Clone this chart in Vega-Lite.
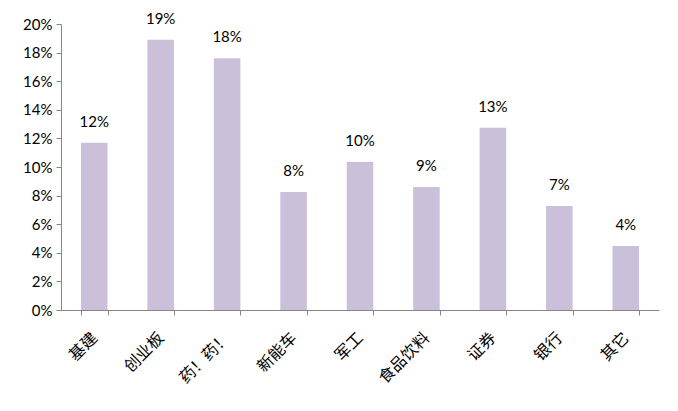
{
  "$schema": "https://vega.github.io/schema/vega-lite/v6.json",
  "autosize": {"type": "none"},
  "width": 598,
  "height": 286,
  "padding": {"left": 61, "top": 24, "right": 19, "bottom": 101},
  "background": "white",
  "config": {"view": {"stroke": null}},
  "data": {"values": [
    {"sector": "基建", "value": 0.117, "label": "12%"},
    {"sector": "创业板", "value": 0.189, "label": "19%"},
    {"sector": "药！药！", "value": 0.176, "label": "18%"},
    {"sector": "新能车", "value": 0.0825, "label": "8%"},
    {"sector": "军工", "value": 0.1035, "label": "10%"},
    {"sector": "食品饮料", "value": 0.086, "label": "9%"},
    {"sector": "证券", "value": 0.1275, "label": "13%"},
    {"sector": "银行", "value": 0.0727, "label": "7%"},
    {"sector": "其它", "value": 0.0448, "label": "4%"}
  ]},
  "encoding": {
    "x": {
      "field": "sector", "type": "nominal", "sort": null,
      "scale": {"paddingInner": 0.6, "paddingOuter": 0.3},
      "axis": {
        "title": null, "labelAngle": -45, "labelAlign": "right", "labelBaseline": "middle",
        "labelFont": "Noto Sans CJK SC", "labelFontSize": 16, "labelColor": "#000000",
        "labelPadding": 20,
        "domainColor": "#868686", "tickColor": "#868686", "tickSize": 5,
        "tickBand": "extent", "grid": false
      }
    },
    "y": {
      "field": "value", "type": "quantitative",
      "scale": {"domain": [0, 0.2], "nice": false},
      "axis": {
        "title": null, "format": ".0%", "values": [0, 0.02, 0.04, 0.06, 0.08, 0.1, 0.12, 0.14, 0.16, 0.18, 0.2],
        "labelFont": "Lato", "labelFontSize": 15, "labelColor": "#000000", "labelPadding": 4,
        "domainColor": "#868686", "tickColor": "#868686", "tickSize": 5, "grid": false
      }
    }
  },
  "layer": [
    {"mark": {"type": "bar", "color": "#CBC0DA"}},
    {"mark": {"type": "text", "baseline": "bottom", "dy": -13, "font": "Lato", "fontSize": 15, "color": "#000000"},
     "encoding": {"text": {"field": "label"}}}
  ]
}
